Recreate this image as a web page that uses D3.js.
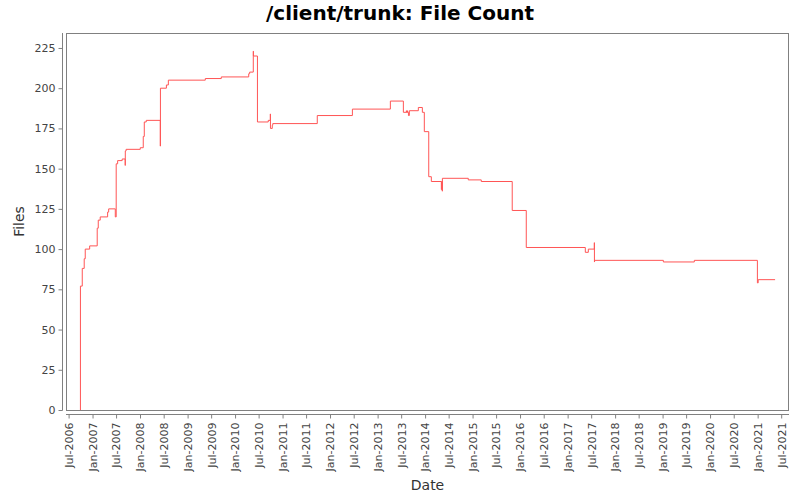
<!DOCTYPE html>
<html>
<head>
<meta charset="utf-8">
<script src="https://cdn.jsdelivr.net/npm/d3@7"></script>
<style>
  body { margin: 0; background: #fff; }
  svg { font-family: "DejaVu Sans", sans-serif; }
</style>
</head>
<body>
<svg id="chart" width="800" height="500"></svg>
<script>
// file count over time (step chart)
const dates = [
  "2006-09-29", "2006-09-30", "2006-10-14", "2006-10-29", "2006-11-06", "2006-12-10",
  "2007-02-06", "2007-02-14", "2007-03-01", "2007-04-27", "2007-05-05", "2007-06-25",
  "2007-07-02", "2007-07-13", "2007-08-17", "2007-09-09", "2007-09-10", "2007-09-16",
  "2008-01-03", "2008-01-26", "2008-02-03", "2008-02-18", "2008-06-05", "2008-06-06",
  "2008-07-22", "2008-08-06", "2009-05-17", "2009-09-17", "2010-04-16", "2010-04-23",
  "2010-05-21", "2010-05-22", "2010-06-22", "2010-09-13", "2010-09-29", "2010-09-30",
  "2010-10-14", "2010-10-18", "2011-09-25", "2012-06-21", "2013-04-09", "2013-07-18",
  "2013-08-10", "2013-08-11", "2013-08-19", "2013-08-20", "2013-08-26", "2013-09-02",
  "2013-11-10", "2013-12-11", "2013-12-26", "2014-01-29", "2014-02-18", "2014-05-06",
  "2014-05-09", "2014-05-13", "2014-05-14", "2014-11-29", "2015-03-09", "2015-11-02",
  "2016-02-18", "2017-05-17", "2017-06-09", "2017-07-25", "2017-07-26", "2017-07-27",
  "2019-01-07", "2019-09-02", "2020-12-30", "2021-01-05", "2021-05-15"
];
const files = [
  0, 77, 88, 94, 100, 102,
  113, 118, 120, 123, 125, 120,
  153, 155, 156, 152, 161, 162,
  163, 170, 179, 180, 164, 200,
  202, 205, 206, 207, 209, 210,
  223, 220, 179, 180, 184, 175,
  177, 178, 183, 187, 192, 185,
  186, 185, 186, 185, 183, 186,
  188, 185, 173, 145, 142, 137,
  142, 136, 144, 143, 142, 124,
  101, 98, 100, 104, 92, 93,
  92, 93, 79, 81, 81
];
const yTicks = [0, 25, 50, 75, 100, 125, 150, 175, 200, 225];

const parseDate = d3.timeParse("%Y-%m-%d");
const data = dates.map((d, i) => ({date: parseDate(d), value: files[i]}));

const plotLeft = 66, plotRight = 789, plotTop = 33, plotBottom = 410;
const axisColor = "#808080";
const textColor = "#444";

const svg = d3.select("#chart");

const x = d3.scaleTime()
  .domain([parseDate("2006-06-11"), parseDate("2021-08-30")])
  .range([plotLeft, plotRight]);
const y = d3.scaleLinear()
  .domain([0, 234.3])
  .range([plotBottom, plotTop]);

// title
svg.append("text")
  .attr("x", 400)
  .attr("y", 20)
  .attr("text-anchor", "middle")
  .attr("font-size", 20)
  .attr("font-weight", "bold")
  .attr("fill", "#000")
  .text("/client/trunk: File Count");

// plot border
svg.append("rect")
  .attr("x", plotLeft + 0.5)
  .attr("y", plotTop + 0.5)
  .attr("width", plotRight - plotLeft - 1)
  .attr("height", plotBottom - plotTop)
  .attr("fill", "none")
  .attr("stroke", axisColor);

// line
const line = d3.line()
  .curve(d3.curveStepAfter)
  .x(d => x(d.date))
  .y(d => y(d.value));

svg.append("path")
  .datum(data)
  .attr("d", line)
  .attr("fill", "none")
  .attr("stroke", "#ff5555")
  .attr("stroke-width", 1);

// yAxis
const yAxis = svg.append("g")
  .attr("transform", "translate(62.5,0)")
  .call(d3.axisLeft(y).tickValues(yTicks).tickSize(4).tickPadding(3));
yAxis.select(".domain")
  .attr("d", `M0,${plotTop}V${plotBottom + 0.5}`);

// xAxis
const xAxis = svg.append("g")
  .attr("transform", "translate(0,414.5)")
  .call(d3.axisBottom(x).ticks(d3.timeMonth.every(6)).tickFormat(d3.timeFormat("%b-%Y")).tickSize(4));
xAxis.select(".domain")
  .attr("d", `M${plotLeft},0H${plotRight}`);
xAxis.selectAll("text")
  .attr("transform", "rotate(-90)")
  .attr("text-anchor", "end")
  .attr("x", -8)
  .attr("y", 0)
  .attr("dy", "0.35em");

svg.selectAll(".tick text")
  .attr("font-family", "DejaVu Sans, sans-serif")
  .attr("font-size", 11)
  .attr("fill", textColor);
svg.selectAll(".domain, .tick line")
  .attr("stroke", axisColor);

// axis labels
svg.append("text")
  .attr("x", (plotLeft + plotRight) / 2)
  .attr("y", 490)
  .attr("text-anchor", "middle")
  .attr("font-size", 14)
  .attr("fill", "#333")
  .text("Date");

svg.append("text")
  .attr("transform", `translate(24,${(plotTop + plotBottom) / 2}) rotate(-90)`)
  .attr("text-anchor", "middle")
  .attr("font-size", 14)
  .attr("fill", "#333")
  .text("Files");
</script>
</body>
</html>
